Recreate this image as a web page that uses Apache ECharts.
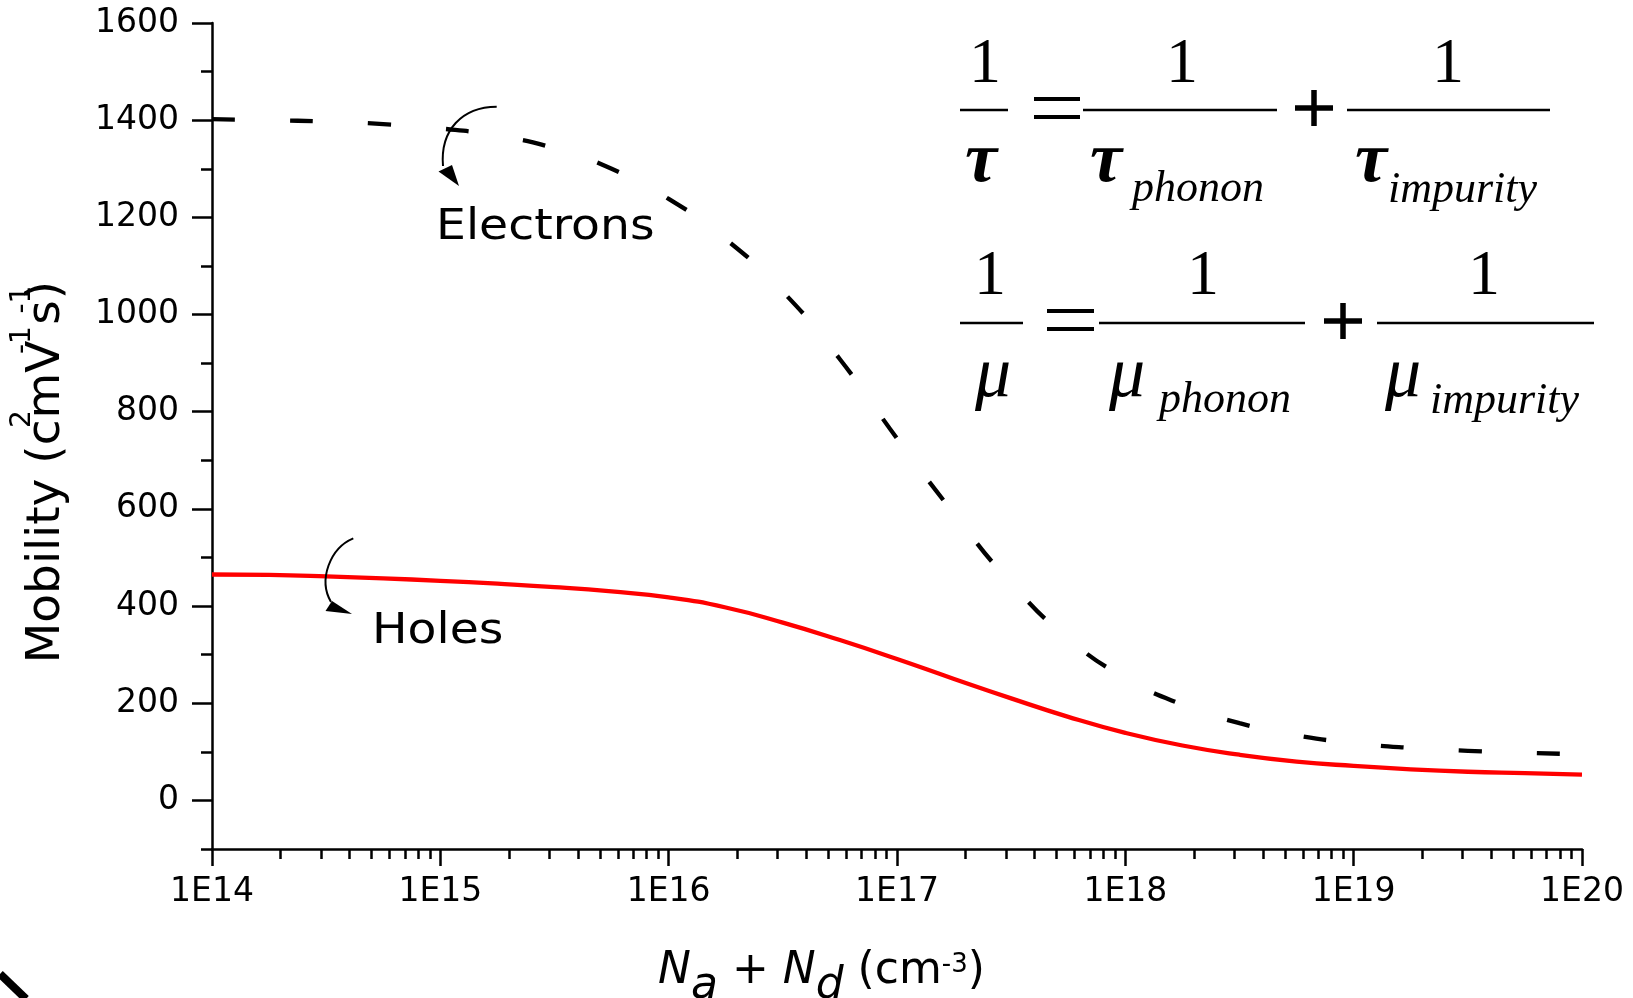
<!DOCTYPE html>
<html>
<head>
<meta charset="utf-8">
<script src="https://cdn.jsdelivr.net/npm/echarts@6/dist/echarts.min.js"></script>
<style>
html,body{margin:0;padding:0;background:#ffffff;}
#chart{width:1633px;height:998px;}
</style>
</head>
<body>
<div id="chart"></div>
<script>
// ---- data (x = log10 of Na+Nd in cm^-3) ----
const exponents = [14, 14.25, 14.5, 14.75, 15, 15.25, 15.5, 15.75, 16, 16.25, 16.5, 16.75, 17, 17.25, 17.5, 17.75, 18, 18.25, 18.5, 18.75, 19, 19.25, 19.5, 19.75, 20];
const electronMobility = [1402, 1400, 1397, 1392, 1383, 1368, 1342, 1300, 1238, 1155, 1047, 908, 745, 590, 447, 333, 252, 197, 159, 134, 118, 108, 102, 98, 95];
const holeMobility = [465, 464, 461, 457, 452, 446, 439, 430, 418, 397, 366, 330, 291, 250, 210, 172, 139, 113, 94, 80, 71, 64, 59, 56, 53];
const xMajorTicks = [14, 15, 16, 17, 18, 19, 20];
const yMajorTicks = [0, 200, 400, 600, 800, 1000, 1200, 1400, 1600];
const yMinorTicks = [-100, 100, 300, 500, 700, 900, 1100, 1300, 1500];
const seriesNames = ['Electrons', 'Holes'];

const xMinorTicks = [];
for (let e = 14; e < 20; e++) {
  for (let k = 2; k <= 9; k++) xMinorTicks.push(e + Math.log10(k));
}

const SANS = 'DejaVu Sans';
const SERIF = 'Liberation Serif';

function txt(text, x, y, size, opts, extra) {
  return Object.assign({
    type: 'text', x: x, y: y, silent: true, z: 100,
    style: Object.assign({
      text: text, fontSize: size, fontFamily: SERIF, fill: '#000',
      align: 'center', verticalAlign: 'middle',
      textAlign: 'center', textVerticalAlign: 'middle'
    }, opts || {})
  }, extra || {});
}
function ln(x1, y1, x2, y2, w) {
  return { type: 'line', silent: true, z: 100,
    shape: { x1: x1, y1: y1, x2: x2, y2: y2 },
    style: { stroke: '#000', lineWidth: w } };
}
const L = { align: 'left', textAlign: 'left' };
const tauStyle = { fontStyle: 'italic', fontWeight: 'bold' };
const muStyle = { fontStyle: 'italic' };
const subStyle = { fontStyle: 'italic' };

const graphics = [
  // annotation labels
  txt(seriesNames[0], 436, 228, 43, Object.assign({ fontFamily: SANS }, L), { scaleX: 1.1 }),
  txt(seriesNames[1], 372, 632, 43, Object.assign({ fontFamily: SANS }, L), { scaleX: 1.1 }),
  // curved arrows
  { type: 'bezierCurve', silent: true, z: 100,
    shape: { x1: 496.7, y1: 106.7, cpx1: 462, cpy1: 107, cpx2: 440, cpy2: 130, x2: 443, y2: 166 },
    style: { stroke: '#000', lineWidth: 2, fill: null } },
  { type: 'polygon', silent: true, z: 100,
    shape: { points: [[438.5, 171.5], [452, 165], [459, 186]] }, style: { fill: '#000' } },
  { type: 'bezierCurve', silent: true, z: 100,
    shape: { x1: 353.3, y1: 538.3, cpx1: 330, cpy1: 548, cpx2: 318, cpy2: 580, x2: 331, y2: 602 },
    style: { stroke: '#000', lineWidth: 2, fill: null } },
  { type: 'polygon', silent: true, z: 100,
    shape: { points: [[325.5, 611], [332, 601], [352, 614]] }, style: { fill: '#000' } },

  // equation 1 : 1/tau = 1/tau_phonon + 1/tau_impurity
  txt('1', 985, 65.5, 64),
  ln(960, 110, 1008, 110, 2.5),
  txt('\u03C4', 981, 162, 72, tauStyle),
  ln(1034, 99, 1080, 99, 4), ln(1034, 117, 1080, 117, 4),
  ln(1083, 110, 1277, 110, 2.5),
  txt('1', 1182, 65.5, 64),
  txt('\u03C4', 1090, 162, 72, Object.assign({}, tauStyle, L)),
  txt('phonon', 1132, 189, 44, Object.assign({}, subStyle, L)),
  ln(1295, 108, 1333, 108, 5.5), ln(1314, 90, 1314, 126, 5.5),
  ln(1347, 110, 1550, 110, 2.5),
  txt('1', 1448, 65.5, 64),
  txt('\u03C4', 1355, 162, 72, Object.assign({}, tauStyle, L)),
  txt('impurity', 1388, 190, 44, Object.assign({}, subStyle, L)),

  // equation 2 : 1/mu = 1/mu_phonon + 1/mu_impurity
  txt('1', 990, 277.5, 64),
  ln(960, 323, 1023, 323, 2.5),
  txt('\u03BC', 993, 377, 72, muStyle),
  ln(1047, 311, 1094, 311, 4), ln(1047, 329, 1094, 329, 4),
  ln(1099, 323, 1305, 323, 2.5),
  txt('1', 1203, 277.5, 64),
  txt('\u03BC', 1109, 377, 72, Object.assign({}, muStyle, L)),
  txt('phonon', 1159, 400, 44, Object.assign({}, subStyle, L)),
  ln(1324, 321, 1362, 321, 5.5), ln(1343, 303, 1343, 339, 5.5),
  ln(1377, 323, 1594, 323, 2.5),
  txt('1', 1484, 277.5, 64),
  txt('\u03BC', 1385, 377, 72, Object.assign({}, muStyle, L)),
  txt('impurity', 1430, 401, 44, Object.assign({}, subStyle, L)),

  // corner stroke
  ln(0, 974, 26, 999, 8)
];

const chart = echarts.init(document.getElementById('chart'), null, { renderer: 'canvas' });
const axisColor = '#000';
chart.setOption({
  backgroundColor: '#ffffff',
  animation: false,
  textStyle: { fontFamily: SANS, color: '#000' },
  grid: { left: 212, right: 51, top: 23, bottom: 149, containLabel: false, outerBoundsMode: 'none' },
  xAxis: [
    {
      type: 'value', min: 14, max: 20, interval: 1, position: 'bottom',
      axisLine: { onZero: false, lineStyle: { color: axisColor, width: 2.5 } },
      axisTick: { show: true, inside: false, length: 17, lineStyle: { color: axisColor, width: 2.5 } },
      axisLabel: { formatter: function (v) { return '1E' + v; }, fontFamily: SANS, fontSize: 33, color: '#000', margin: 27 },
      splitLine: { show: false },
      name: '{i|N}{sub|a}{r| + }{i|N}{sub|d}{r| (cm}{sup|-3}{r|)}',
      nameLocation: 'middle', nameGap: 101,
      nameTextStyle: {
        fontFamily: SANS, fontSize: 44, color: '#000', padding: [0, 151, 0, 0],
        rich: {
          i: { fontFamily: SANS, fontSize: 44, fontStyle: 'italic', color: '#000', verticalAlign: 'top' },
          r: { fontFamily: SANS, fontSize: 44, color: '#000', verticalAlign: 'top' },
          sub: { fontFamily: SANS, fontSize: 44, fontStyle: 'italic', color: '#000', verticalAlign: 'top', padding: [15, 0, 0, 0] },
          sup: { fontFamily: SANS, fontSize: 26, color: '#000', verticalAlign: 'top', padding: [2, 0, 0, 0] }
        }
      }
    },
    {
      type: 'value', min: 14, max: 20, interval: 1, position: 'bottom', gridIndex: 0,
      axisLine: { show: false, onZero: false },
      axisTick: { show: true, inside: false, length: 10, customValues: xMinorTicks, lineStyle: { color: axisColor, width: 2.5 } },
      axisLabel: { show: false },
      splitLine: { show: false }
    }
  ],
  yAxis: [
    {
      type: 'value', min: -100, max: 1600, position: 'left',
      axisLine: { show: true, onZero: false, lineStyle: { color: axisColor, width: 2.5 } },
      axisTick: { show: true, inside: false, length: 20, customValues: yMajorTicks, lineStyle: { color: axisColor, width: 2.5 } },
      axisLabel: { customValues: yMajorTicks, formatter: function (v) { return String(v); }, fontFamily: SANS, fontSize: 33, color: '#000', margin: 33 },
      splitLine: { show: false },
      name: '{b|Mobility (c}{s|2}{b|mV}{s|-1}{b| s}{s|-1}{b|)}',
      nameLocation: 'middle', nameRotate: 90, nameGap: 142,
      nameTextStyle: {
        fontFamily: SANS, fontSize: 47, color: '#000', padding: [0, 72, 0, 0],
        rich: {
          b: { fontFamily: SANS, fontSize: 47, color: '#000', verticalAlign: 'top', padding: [14, 0, 0, 0] },
          s: { fontFamily: SANS, fontSize: 28, color: '#000', verticalAlign: 'top', width: 1, align: 'left' }
        }
      }
    },
    {
      type: 'value', min: -100, max: 1600, position: 'left', gridIndex: 0,
      axisLine: { show: false, onZero: false },
      axisTick: { show: true, inside: false, length: 11, customValues: yMinorTicks, lineStyle: { color: axisColor, width: 2.5 } },
      axisLabel: { show: false },
      splitLine: { show: false }
    }
  ],
  series: [
    {
      name: seriesNames[0], type: 'line', xAxisIndex: 0, yAxisIndex: 0,
      data: exponents.map(function (e, i) { return [e, electronMobility[i]]; }),
      smooth: 0.5, showSymbol: false, symbol: 'none', z: 3,
      lineStyle: { color: '#000', width: 4.3, type: [23, 55], dashOffset: 0 }
    },
    {
      name: seriesNames[1], type: 'line', xAxisIndex: 0, yAxisIndex: 0,
      data: exponents.map(function (e, i) { return [e, holeMobility[i]]; }),
      smooth: 0.5, showSymbol: false, symbol: 'none', z: 2,
      lineStyle: { color: '#ff0000', width: 4.3 }
    }
  ],
  graphic: graphics
});
</script>
</body>
</html>
